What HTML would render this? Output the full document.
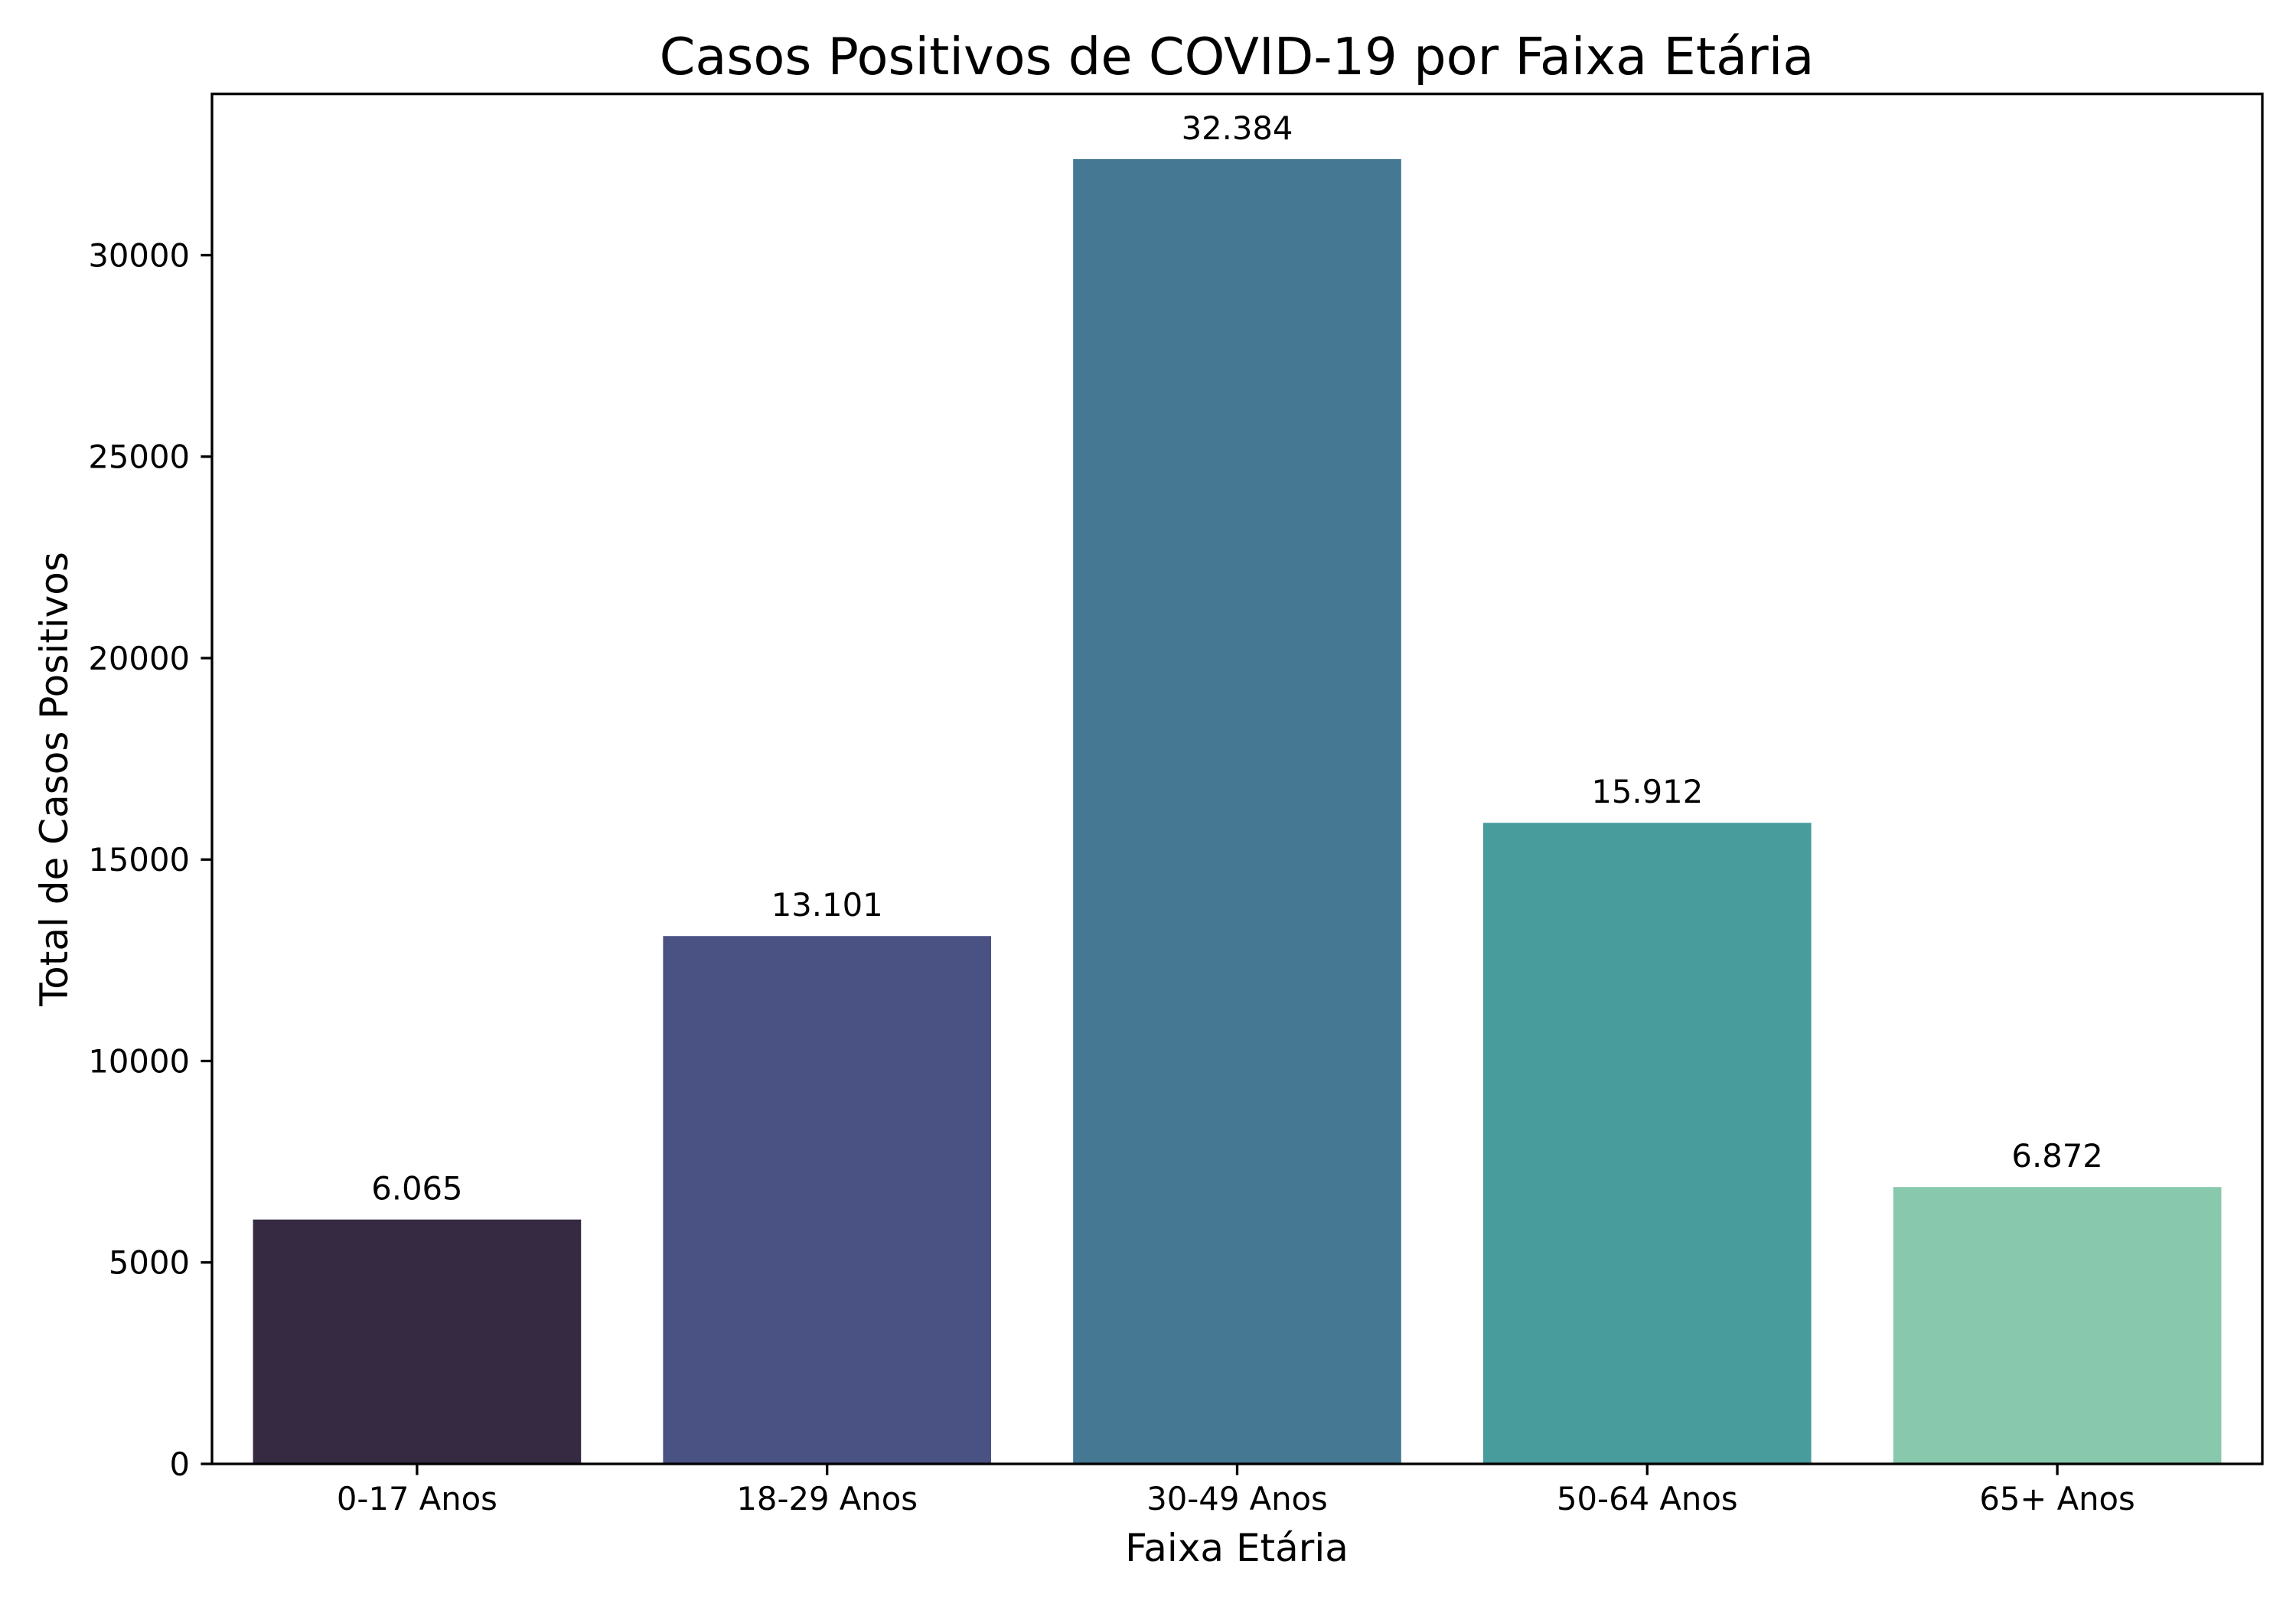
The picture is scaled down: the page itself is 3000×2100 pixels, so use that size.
<!DOCTYPE html>
<html><head><meta charset="utf-8"><style>
html,body{margin:0;padding:0;background:#fff;}
svg{display:block;font-family:"DejaVu Sans","Liberation Sans",sans-serif;}
</style></head><body>
<svg id="chart" width="3000" height="2100" viewBox="0 0 3000 2100">
<rect x="0" y="0" width="3000" height="2100" fill="#fff"/>
<text x="1616" y="97" font-size="67" text-anchor="middle" fill="#000">Casos Positivos de COVID-19 por Faixa Etária</text>
<g id="bars"></g>
<g id="yticks"></g>
<g id="xticks"></g>
<rect x="277" y="122.7" width="2679" height="1790.3" fill="none" stroke="#000" stroke-width="3.3"/>
<text x="1616" y="2040" font-size="50" text-anchor="middle" fill="#000">Faixa Etária</text>
<text transform="translate(88,1018) rotate(-90)" font-size="50" text-anchor="middle" fill="#000">Total de Casos Positivos</text>
</svg>
<script>
const categories = ["0-17 Anos","18-29 Anos","30-49 Anos","50-64 Anos","65+ Anos"];
const values = [6065,13101,32384,15912,6872];
const valueLabels = ["6.065","13.101","32.384","15.912","6.872"];
const colors = ["#352A42","#4A5283","#447893","#489C9C","#88C9AD"];
const yTicks = [0,5000,10000,15000,20000,25000,30000];

const NS="http://www.w3.org/2000/svg";
const L=277,R=2956,T=122.7,B=1913;
const yMax=Math.max(...values)*1.05;
const slot=(R-L)/categories.length;
function xs(i){return L+slot*(i+0.5);}
function ys(v){return B-(v/yMax)*(B-T);}
function mk(tag,attrs,parent){const e=document.createElementNS(NS,tag);for(const k in attrs)e.setAttribute(k,attrs[k]);parent.appendChild(e);return e;}
const gb=document.getElementById('bars'),gy=document.getElementById('yticks'),gx=document.getElementById('xticks');
values.forEach((v,i)=>{
  const w=slot*0.8;
  const r=mk('rect',{x:xs(i)-w/2,y:ys(v),width:w,height:B-ys(v),fill:colors[i]},gb);
  
  
  const t=mk('text',{x:xs(i),y:ys(v)-26,'font-size':41.7,'text-anchor':'middle',fill:'#000'},gb);
  t.textContent=valueLabels[i];
  
  
  const tk=mk('line',{x1:xs(i),x2:xs(i),y1:B,y2:B+14.6,stroke:'#000','stroke-width':3.3},gx);
  
  
  const tl=mk('text',{x:xs(i),y:B+60,'font-size':41.7,'text-anchor':'middle',fill:'#000'},gx);
  tl.textContent=categories[i];
  
  
});
yTicks.forEach(v=>{
  const tk=mk('line',{x1:L-14.6,x2:L,y1:ys(v),y2:ys(v),stroke:'#000','stroke-width':3.3},gy);
  
  
  const tl=mk('text',{x:L-29,y:ys(v)+15,'font-size':41.7,'text-anchor':'end',fill:'#000'},gy);
  tl.textContent=String(v);
  
  
});
</script>
</body></html>
